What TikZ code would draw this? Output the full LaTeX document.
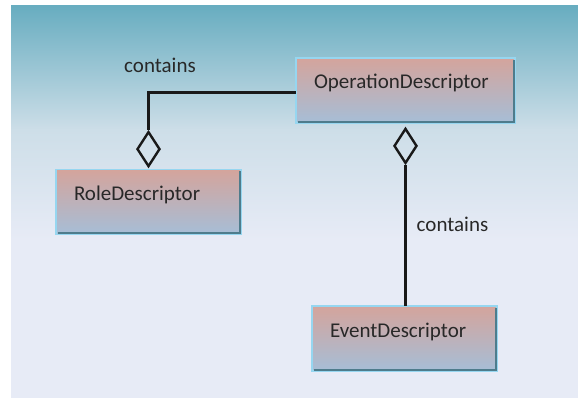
\documentclass[tikz,border=0pt]{standalone}
\usepackage{fontspec}
\setmainfont{Carlito}
\usepackage{tikz}
\usetikzlibrary{shapes.geometric}

\definecolor{bgtop}{RGB}{104,173,192}
\definecolor{bgmid}{RGB}{205,222,232}
\definecolor{bgbot}{RGB}{231,235,246}
\definecolor{classtop}{RGB}{212,164,156}
\definecolor{classbot}{RGB}{166,190,215}
\definecolor{edgelight}{RGB}{150,214,240}
\definecolor{edgedark}{RGB}{78,124,140}
\definecolor{inktext}{RGB}{40,40,40}

\tikzset{
	classbox/.style={rectangle, top color=classtop, bottom color=classbot, draw=none,
		minimum height=65pt, inner xsep=18pt, inner ysep=0pt, align=left,
		text height=12pt, text depth=15pt, text=inktext, font=\fontsize{21}{25}\selectfont},
	aggr/.style={diamond, draw=black!90, line width=2.4pt, minimum width=23pt, minimum height=35pt, inner sep=0pt},
	link/.style={black!90, line width=2.4pt},
	roletext/.style={text=inktext, font=\fontsize{21}{25}\selectfont, inner sep=0pt}
}

\begin{document}
\begin{tikzpicture}[x=1pt, y=-1pt]
				\useasboundingbox (0,0) rectangle (578,398);
				\fill[top color=bgtop, bottom color=bgmid] (11,6) rectangle (578,130);
				\fill[top color=bgmid, bottom color=bgbot] (11,129.5) rectangle (578,240);
				\fill[bgbot] (11,239.5) rectangle (578,398);
				% classes
				\node[classbox, text width=183pt] (opdesc) at (405.5,90.5) {OperationDescriptor};
				\node[classbox, text width=149pt] (roledesc) at (148.5,202) {RoleDescriptor};
				\node[classbox, text width=149pt] (eventdesc) at (404.5,338.5) {EventDescriptor};
				\foreach \n in {opdesc,roledesc,eventdesc}{
					\draw[edgelight, line width=1.5pt] (\n.south west) rectangle (\n.north east);
					\draw[edgedark, line width=2pt] ([xshift=2pt,yshift=1.5pt]\n.south west) -| ([xshift=-1.5pt,yshift=-2pt]\n.north east);
				}
				% aggregations
				\node[aggr, anchor=south] (agg1) at ([yshift=1.5pt]roledesc.north) {};
				\node[aggr, anchor=north] (agg2) at ([yshift=-4pt]opdesc.south) {};
				\draw[link] ([yshift=-2pt]opdesc.west) -| (agg1.north);
				\draw[link] (agg2.south) -- (eventdesc.north -| agg2.south);
				\node[roletext, anchor=base] (lblrole) at (160,73) {contains};
				\node[roletext, anchor=base] (lblevent) at (452.5,232) {contains};
			\end{tikzpicture}
\end{document}
